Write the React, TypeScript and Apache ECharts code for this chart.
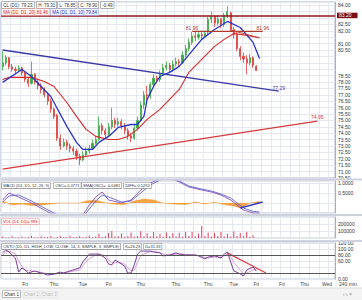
import React, { useEffect, useRef } from 'react';
import * as echarts from 'echarts';

const FONT = 'Liberation Sans, Arial, sans-serif';
const SLOT_COUNT = 104;
const slots = Array.from({ length: SLOT_COUNT }, (_, i) => String(i));

const xLabelIdx = [7, 16, 25, 33, 43, 54, 64, 72, 79, 87, 94, 101];
const xLabelTxt = ['Fri', 'Thu', 'Tue', 'Fri', 'Thu', 'Thu', 'Thu', 'Tue', 'Fri', 'Fri', 'Thu', 'Wed'];

const opens = [79.2, 79.5, 79.9, 79.2, 79.0, 78.9, 79.1, 78.7, 78.2, 77.9,
  78.6, 78.0, 77.7, 77.4, 77.0, 76.5, 75.9, 75.4, 73.6, 73.0,
  73.3, 73.0, 72.8, 72.6, 72.2, 71.9, 72.3, 72.6, 72.8, 73.2,
  73.5, 74.6, 74.2, 73.9, 74.5, 75.0, 74.7, 74.9, 74.6, 74.2,
  73.8, 73.6, 74.4, 75.0, 76.2, 77.0, 76.9, 77.8, 78.3, 78.2,
  78.7, 79.1, 79.3, 79.0, 79.4, 79.6, 79.5, 80.1, 80.6, 81.1,
  81.6, 81.5, 81.7, 81.6, 81.9, 82.9, 83.1, 82.6, 82.9, 82.5,
  83.2, 83.4, 82.1, 81.7, 80.6, 80.0, 79.8, 79.5, 79.9, 79.23];
const closes = [79.5, 79.9, 79.2, 79.0, 78.9, 79.1, 78.7, 78.2, 77.9, 78.6,
  78.0, 77.7, 77.4, 77.0, 76.5, 75.9, 75.3, 73.6, 73.0, 73.3,
  73.0, 72.8, 72.6, 72.2, 71.9, 72.3, 72.6, 72.8, 73.2, 73.5,
  74.6, 74.2, 73.9, 74.5, 75.0, 74.7, 74.9, 74.6, 74.2, 73.8,
  73.6, 74.4, 75.0, 76.2, 77.0, 76.9, 77.8, 78.3, 78.2, 78.7,
  79.1, 79.3, 79.0, 79.4, 79.6, 79.5, 80.1, 80.6, 81.1, 81.6,
  81.5, 81.7, 81.6, 81.8, 82.9, 83.1, 82.6, 82.9, 82.5, 83.2,
  83.5, 82.1, 81.7, 80.6, 80.0, 79.8, 79.5, 79.9, 79.3, 78.9];
const lows = [78.9, 79.3, 79.0, 78.8, 78.6, 78.8, 78.5, 78.0, 77.6, 77.8,
  77.8, 77.4, 77.1, 76.8, 76.2, 75.6, 75.1, 73.4, 72.7, 72.9,
  72.7, 72.5, 72.3, 71.9, 71.5, 71.8, 72.2, 72.4, 72.7, 73.1,
  73.4, 73.9, 73.6, 73.7, 74.3, 74.4, 74.5, 74.3, 73.9, 73.5,
  73.3, 73.5, 74.2, 74.9, 75.9, 76.5, 76.7, 77.6, 77.9, 78.0,
  78.5, 78.9, 78.7, 78.8, 79.2, 79.2, 79.4, 79.9, 80.4, 80.9,
  81.2, 81.3, 81.3, 81.4, 81.7, 82.6, 82.3, 82.4, 82.2, 82.3,
  83.0, 81.9, 81.4, 80.4, 79.7, 79.5, 78.6, 79.3, 79.1, 78.85];
const highs = [80.4, 80.1, 79.95, 79.4, 79.2, 79.3, 79.2, 78.8, 78.4, 79.6,
  78.7, 78.2, 77.9, 77.6, 77.2, 76.7, 76.0, 75.5, 73.9, 73.6,
  73.5, 73.2, 73.0, 72.8, 72.4, 72.6, 72.9, 73.1, 73.5, 73.8,
  75.3, 74.8, 74.4, 74.8, 76.0, 75.2, 75.2, 75.1, 74.8, 74.4,
  74.0, 74.7, 75.3, 76.5, 77.3, 77.7, 78.0, 78.6, 78.5, 78.9,
  79.4, 79.6, 79.5, 79.7, 79.9, 79.8, 80.4, 80.9, 81.4, 81.9,
  81.9, 82.0, 81.9, 82.0, 83.1, 83.5, 83.2, 83.2, 83.0, 83.4,
  83.9, 83.5, 82.3, 81.9, 80.8, 80.3, 80.1, 80.2, 80.0, 79.31];

const ma10Pts = [[0, 77.97], [6, 78.98], [9, 78.43], [15, 76.87], [20, 74.53], [23, 73.28], [25, 72.73], [28, 72.73], [30, 73.28], [33, 73.75], [36, 74.45], [40, 74.68], [42, 74.68], [44, 75.31], [45, 76.64], [47, 77.65], [49, 78.43], [52, 78.75], [55, 79.22], [62, 81.33], [66, 82.1], [70, 82.73], [74, 82.26], [78, 81.09], [80, 79.84]];
const ma20Pts = [[0, 78.2], [2, 78.36], [5, 78.36], [9, 78.36], [13, 78.04], [16, 77.65], [20, 76.4], [23, 75.31], [26, 74.3], [29, 73.75], [33, 73.51], [36, 73.51], [39, 73.75], [42, 74.3], [45, 75.08], [49, 75.86], [52, 76.64], [55, 77.42], [58, 78.75], [62, 79.76], [66, 80.78], [69, 81.33], [72, 81.79], [76, 81.64], [80, 81.46]];
const trendBlue = [[0, 80.5], [86, 77.29]];
const trendRed = [[0, 71.2], [98, 74.95]];
const level8196 = [[59, 81.96], [81, 81.96]];
const slopeRed = [[71, 82.06], [80, 81.44]];

const macdLine = [[0, 0.15], [2, 0.5], [5, 0.3], [9, 0.0], [13, -0.35], [16, -0.6], [19, -0.9], [22, -1.0], [25, -0.6], [27, -0.1], [29, 0.3], [31, 0.55], [33, 0.15], [37, 0.0], [40, 0.15], [43, 0.65], [46, 1.0], [49, 1.2], [52, 1.25], [55, 1.05], [58, 0.8], [62, 0.65], [65, 0.55], [68, 0.4], [71, 0.15], [73, -0.1], [75, -0.35], [78, -0.5], [80, -0.52]];
const macdSignal = [[0, 0.05], [2, 0.35], [5, 0.4], [9, 0.1], [13, -0.25], [16, -0.5], [19, -0.8], [22, -0.95], [25, -0.7], [27, -0.3], [29, 0.1], [31, 0.4], [33, 0.3], [37, 0.05], [40, 0.1], [43, 0.5], [46, 0.9], [49, 1.15], [52, 1.25], [55, 1.1], [58, 0.85], [62, 0.7], [65, 0.6], [68, 0.45], [71, 0.25], [73, 0.0], [75, -0.25], [78, -0.42], [80, -0.45]];
const macdOsc = [[0, 0.1], [3, -0.1], [6, -0.05], [9, -0.12], [12, -0.1], [15, -0.05], [18, 0], [24, 0.0], [26, 0.1], [29, 0.15], [31, 0.05], [34, -0.05], [38, -0.08], [41, 0.1], [44, 0.2], [47, 0.15], [50, 0.0], [53, -0.05], [57, -0.08], [60, 0.05], [63, -0.05], [66, 0.04], [69, -0.08], [72, -0.15], [74, -0.25], [77, 0.0], [80, 0.08]];
const macdTrend = [[74, -0.25], [81, 0.05]];

const volumes = [20000, 8000, 12000, 25000, 6000, 10000, 22000, 8000, 14000, 28000,
  6000, 12000, 24000, 9000, 15000, 30000, 8000, 14000, 26000, 10000,
  16000, 32000, 9000, 14000, 28000, 10000, 18000, 35000, 12000, 20000,
  60000, 15000, 25000, 70000, 100000, 20000, 30000, 65000, 18000, 28000,
  80000, 22000, 30000, 95000, 25000, 70000, 20000, 85000, 24000, 60000,
  18000, 80000, 26000, 70000, 22000, 75000, 20000, 85000, 30000, 90000,
  25000, 65000, 170000, 30000, 80000, 22000, 75000, 28000, 85000, 25000,
  60000, 20000, 95000, 30000, 70000, 25000, 90000, 15000, 40000, 983];

const stoK = [[0, 87], [1, 97], [2, 90], [4, 70], [5, 23], [6, 37], [7, 30], [8, 20], [10, 27], [11, 23], [13, 17], [14, 13], [16, 17], [18, 23], [19, 20], [21, 27], [24, 37], [25, 57], [27, 83], [29, 83], [30, 83], [32, 70], [33, 50], [34, 47], [35, 63], [36, 57], [38, 43], [39, 20], [40, 20], [41, 47], [42, 83], [43, 93], [46, 93], [47, 90], [49, 87], [50, 77], [52, 80], [54, 87], [55, 83], [57, 80], [60, 80], [61, 77], [63, 67], [64, 73], [66, 77], [68, 70], [69, 83], [70, 90], [71, 57], [72, 27], [74, 17], [75, 10], [76, 30], [78, 40], [79, 26.23]];
const stoD = [[0, 80], [1, 90], [2, 93], [4, 85], [5, 60], [6, 42], [7, 30], [8, 28], [10, 25], [11, 25], [13, 20], [14, 17], [16, 15], [18, 20], [19, 21], [21, 24], [24, 30], [25, 45], [27, 68], [29, 80], [30, 83], [32, 78], [33, 65], [34, 55], [35, 53], [36, 57], [38, 50], [39, 37], [40, 27], [41, 30], [42, 55], [43, 78], [46, 92], [47, 92], [49, 88], [50, 83], [52, 80], [54, 83], [55, 84], [57, 82], [60, 80], [61, 78], [63, 72], [64, 70], [66, 73], [68, 73], [69, 77], [70, 83], [71, 75], [72, 55], [74, 30], [75, 18], [76, 20], [78, 30], [79, 31.33]];
const stoTrend = [[70, 87], [82, 20]];
const stoLevels = [80, 20];

const priceTags = [83.2, 81.46, 79.84, 78.9];

function tag(value: number, text: string, bg: string, offsetY = 0, line?: { color: string; width: number }) {
  return {
    yAxis: value,
    lineStyle: line ? { color: line.color, width: line.width, type: 'solid', opacity: 1 } : { opacity: 0 },
    label: {
      show: true, position: 'end', formatter: text, backgroundColor: bg, color: '#fff',
      fontSize: 5, fontFamily: FONT, padding: [0.5, 6, 0, 2], distance: 2, offset: [0, offsetY],
    },
  };
}

function endLabeled(pts: number[][], text: string, color: string, both = false) {
  return pts.map((p, i) => {
    const show = i === pts.length - 1 || (both && i === 0);
    return {
      value: p,
      label: show ? { show: true, formatter: text, position: 'top', distance: 1, color, fontSize: 5, fontFamily: FONT } : { show: false },
    };
  });
}

function hdr(text: string, x: number, y: number, fill: string, border: string, size = 4, bg = '#fff') {
  return {
    type: 'text', x, y, z: 100, silent: true,
    style: {
      text, x: 0, y: 0, fill, fontSize: size, fontFamily: FONT, backgroundColor: bg,
      borderColor: border, borderWidth: 0.6, padding: [0.8, 1.2, 0.3, 1.2], verticalAlign: 'top', align: 'left',
    },
  };
}

const gridLine = '#e6e8f0';

function xAxisFor(gi: number, labels: boolean) {
  return {
    type: 'category', gridIndex: gi, data: slots, boundaryGap: true,
    axisLine: { show: false }, axisTick: { show: false },
    axisLabel: labels ? {
      show: true, fontSize: 5, color: '#444', margin: 2, fontFamily: FONT,
      interval: (i: number) => xLabelIdx.includes(i),
      formatter: (_v: string, i: number) => { const k = xLabelIdx.indexOf(i); return k >= 0 ? xLabelTxt[k] : ''; },
    } : { show: false },
    splitLine: { show: true, interval: 2, lineStyle: { color: gridLine, width: 1 } },
  };
}

function yAxisFor(gi: number, min: number, max: number, interval: number, fmt: (v: number) => string) {
  return {
    type: 'value', gridIndex: gi, position: 'right', min, max, interval,
    axisLine: { show: true, lineStyle: { color: '#aab0c4' } }, axisTick: { show: false },
    axisLabel: { fontSize: 5, color: '#333', margin: 3, fontFamily: FONT, formatter: fmt },
    splitLine: { show: true, lineStyle: { color: gridLine, width: 1 } },
  };
}

const near = (v: number, step: number) => Math.abs(v / step - Math.round(v / step)) < 1e-6;
const priceFmt = (v: number) => {
  if (!near(v, 0.5)) return '';
  if (priceTags.some((t) => Math.abs(t - v) < 0.36)) return '';
  return v.toFixed(2);
};

const lineS = (x: number, data: any, color: string, width: number, extra: any = {}) => ({
  type: 'line', xAxisIndex: x, yAxisIndex: x, data, showSymbol: true, symbol: 'circle', symbolSize: 0.1,
  itemStyle: { color }, lineStyle: { color, width }, silent: true, z: 3, ...extra,
});

const option: any = {
  animation: false,
  backgroundColor: '#fff',
  textStyle: { fontFamily: FONT },
  grid: [
    { left: 1, right: 27, top: 2, height: 176, show: true, borderColor: '#aab2d8', borderWidth: 1 },
    { left: 1, right: 27, top: 181, height: 32, show: true, borderColor: '#c0c4d0', borderWidth: 1 },
    { left: 1, right: 27, top: 217, height: 21, show: true, borderColor: '#c0c4d0', borderWidth: 1 },
    { left: 1, right: 27, top: 243, height: 36, show: true, borderColor: '#c0c4d0', borderWidth: 1 },
  ],
  xAxis: [xAxisFor(0, false), xAxisFor(1, false), xAxisFor(2, false), xAxisFor(3, true)],
  yAxis: [
    yAxisFor(0, 70.5, 84.25, 0.5, priceFmt),
    yAxisFor(1, -0.5, 1.1, 0.5, (v) => (near(v, 0.5) && v > 0.1 ? v.toFixed(4) : '')),
    yAxisFor(2, 0, 300000, 100000, (v) => (v === 100000 || v === 200000 ? String(v) : '')),
    yAxisFor(3, 0, 120, 20, (v) => (v === 20 || v === 40 ? '' : v.toFixed(2))),
  ],
  series: [
    {
      type: 'candlestick', xAxisIndex: 0, yAxisIndex: 0, barWidth: 1.6, silent: true,
      data: opens.map((o, i) => [o, closes[i], lows[i], highs[i]]),
      itemStyle: { color: '#3aa843', color0: '#e0403a', borderColor: '#3aa843', borderColor0: '#e0403a', borderWidth: 0.8 },
      markLine: {
        silent: true, symbol: ['none', 'none'], animation: false,
        data: [tag(83.2, '83.20', '#7a0f0f', 0, { color: '#8b1a1a', width: 1.5 }), tag(78.9, '78.90', '#111')],
      },
    },
    lineS(0, ma20Pts, '#d42a2a', 1.1, { markLine: { silent: true, symbol: ['none', 'none'], data: [tag(81.46, '81.46', '#e8211c')] } }),
    lineS(0, ma10Pts, '#2a35c9', 1.3, { markLine: { silent: true, symbol: ['none', 'none'], data: [tag(79.84, '79.84', '#1010e0')] } }),
    lineS(0, endLabeled(trendBlue, '77.29', '#3a3aa8'), '#3a3aa8', 1.3),
    lineS(0, endLabeled(trendRed, '74.95', '#d43c3c'), '#d43c3c', 1.3),
    lineS(0, endLabeled(level8196, '81.96', '#b03a2e', true), '#b03a2e', 1.2),
    lineS(0, slopeRed, '#c4453a', 1),
    lineS(1, macdOsc, '#f39a2e', 0.5, {
      areaStyle: { color: '#f39a2e', opacity: 0.9 }, z: 2,
      markLine: { silent: true, symbol: ['none', 'none'], data: [tag(0.0771, '0.0771', '#f08a1c'), tag(-0.0481, '-0.0481', '#e8211c', 8)] },
    }),
    lineS(1, macdLine, '#8a4fb0', 0.9),
    lineS(1, macdSignal, '#5b63d6', 0.9),
    lineS(1, macdTrend, '#3a3ac0', 1.4),
    {
      type: 'bar', xAxisIndex: 2, yAxisIndex: 2, data: volumes, barWidth: 1, silent: true,
      itemStyle: { color: '#e0405a' },
      markLine: { silent: true, symbol: ['none', 'none'], data: [tag(983, '983', '#e8211c')] },
    },
    lineS(3, stoD, '#d8a0d0', 1),
    lineS(3, stoK, '#7a3d9a', 1, {
      markLine: {
        silent: true, symbol: ['none', 'none'],
        data: [
          ...stoLevels.map((v) => ({ yAxis: v, lineStyle: { color: '#555', width: 1, type: 'solid' }, label: { show: false } })),
          tag(31.33, '31.33', '#0a0ad0'),
        ],
      },
    }),
    lineS(3, stoTrend, '#d94848', 1.4),
  ],
  graphic: [
    { type: 'rect', z: 90, silent: true, shape: { x: 0, y: 178.5, width: 362, height: 2 }, style: { fill: '#cfd2dc' } },
    { type: 'rect', z: 90, silent: true, shape: { x: 0, y: 214, width: 362, height: 2 }, style: { fill: '#cfd2dc' } },
    { type: 'rect', z: 90, silent: true, shape: { x: 0, y: 240, width: 362, height: 2 }, style: { fill: '#cfd2dc' } },
    { type: 'rect', z: 90, silent: true, shape: { x: 0, y: 288, width: 362, height: 12 }, style: { fill: '#f3f3f3' } },
    { type: 'line', z: 90, silent: true, shape: { x1: 0, y1: 288, x2: 362, y2: 288 }, style: { stroke: '#d8d8d8', lineWidth: 1 } },
    hdr('CL (D1): 79.23', 2, 2, '#333', '#888', 4.5),
    hdr('H: 79.31', 37, 2, '#333', '#888', 4.5),
    hdr('L: 78.85', 58, 2, '#333', '#888', 4.5),
    hdr('C: 78.90', 79, 2, '#333', '#888', 4.5),
    hdr('-0.49', 101, 2, '#333', '#888', 4.5),
    hdr('MA (D1, D1, 20) 81.46', 2, 9, '#d42a2a', '#e8a0a0', 4.5, '#fff4f4'),
    hdr('MA (D1, D1, 10) 79.84', 51, 9, '#2a35c9', '#a8ace8', 4.5, '#f4f4ff'),
    hdr('MACD (D1, D1, 12, 26, 9)', 2, 183, '#333', '#888'),
    hdr('OSC= 0.0771', 54, 183, '#333', '#888'),
    hdr('EMA(OSC)= -0.0481', 82, 183, '#333', '#888'),
    hdr('DIFF= 0.1292', 124, 183, '#333', '#888'),
    hdr('VOL (D1, D1)= 983', 2, 219, '#d42a2a', '#e8a0a0', 4, '#fff4f4'),
    hdr('OSTO (D1, D1, HIGH_LOW, CLOSE, 14, 3, SIMPLE, 3, SIMPLE)', 2, 244, '#333', '#888'),
    hdr('K=26.23', 124, 244, '#333', '#888'),
    hdr('D=31.33', 144, 244, '#333', '#888'),
    { type: 'text', x: 339, y: 281, z: 100, silent: true, style: { text: '240 min.', fill: '#444', fontSize: 5, fontFamily: FONT, verticalAlign: 'top' } },
    hdr('Chart 1', 3, 291, '#333', '#999', 4.5),
    { type: 'text', x: 23, y: 291.5, z: 100, silent: true, style: { text: 'Chart 2', fill: '#b8b8b8', fontSize: 4.5, fontFamily: FONT, verticalAlign: 'top', borderColor: '#ddd', borderWidth: 0.5, padding: [0.5, 1] } },
    { type: 'text', x: 41, y: 291.5, z: 100, silent: true, style: { text: 'Chart 3', fill: '#b8b8b8', fontSize: 4.5, fontFamily: FONT, verticalAlign: 'top', borderColor: '#ddd', borderWidth: 0.5, padding: [0.5, 1] } },
    { type: 'text', x: 343, y: 291, z: 100, silent: true, style: { text: '‹ › ×', fill: '#888', fontSize: 5, fontFamily: FONT, verticalAlign: 'top' } },
  ],
};

export default function App() {
  const ref = useRef<HTMLDivElement>(null);
  useEffect(() => {
    if (!ref.current) return;
    const chart = echarts.init(ref.current, null, { renderer: 'svg' });
    chart.setOption(option);
    return () => chart.dispose();
  }, []);
  return <div ref={ref} style={{ position: 'fixed', left: 0, top: 0, width: 362, height: 300, background: '#fff' }} />;
}
